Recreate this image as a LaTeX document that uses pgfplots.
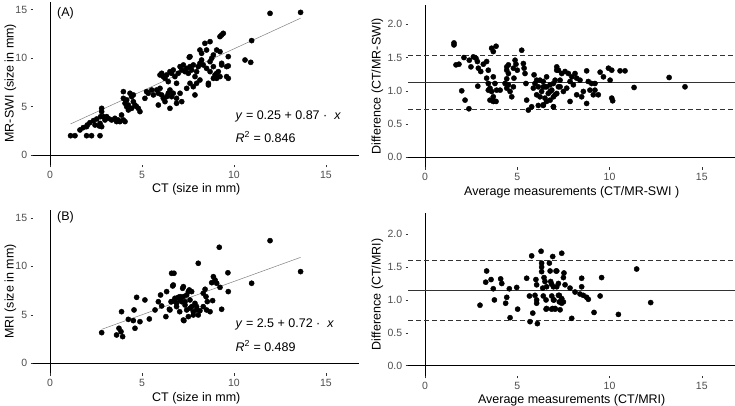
\documentclass[border=0pt]{standalone}
\usepackage{fontspec}
\setmainfont{Liberation Sans}
\usepackage{pgfplots}
\pgfplotsset{compat=1.18}
\definecolor{tickgray}{HTML}{4D4D4D}
\definecolor{tickmark}{HTML}{333333}
\pgfplotsset{
  panel/.style={
    scale only axis,
    axis line style={draw=none},
    tick align=outside,
    tick pos=left,
    major tick length=2.75pt,
    tick style={color=tickmark, line width=0.5pt},
    xtick={0,5,10,15},
    xmin=-0.9, xmax=16.8,
    tick label style={font=\fontsize{10.5}{12}\selectfont, text=tickgray},
    /pgf/number format/assume math mode=true,
    every axis x label/.style={at={(axis description cs:0.5,0)}, yshift=-25pt, anchor=center, font=\fontsize{12.5}{14}\selectfont},
    clip=false,
  },
  ylab/.style={every axis y label/.style={at={(axis description cs:0,0.5)}, xshift=#1, rotate=90, anchor=center, font=\fontsize{12.5}{14}\selectfont}},
  dots/.style={only marks, mark=*, mark size=2.6pt, black},
}
\begin{document}
\begin{tikzpicture}
\useasboundingbox (0,0) rectangle (735pt,405pt);
% ---------------- Panel A left
\begin{axis}[panel, at={(33.4pt,240.3pt)}, anchor=south west,
  width=325.7pt, height=163pt, ymin=-1, ymax=15.8, ytick={0,5,10,15},
  xlabel={CT (size in mm)}, ylabel={MR-SWI (size in mm)}, ylab=-23pt]
\addplot[black, line width=0.6pt] coordinates {(-0.9,0) (16.8,0)};
\addplot[black, line width=0.6pt] coordinates {(0,-1) (0,15.8)};
\addplot[gray, line width=0.5pt] coordinates {(1.12,3.2) (13.62,14.1)};
\addplot[dots] table {
x y
1.12 1.99
1.36 1.99
1.99 1.99
2.26 1.99
2.72 1.99
1.63 2.58
1.81 2.82
2.03 3.09
2.17 3.33
2.36 3.54
2.54 3.71
2.68 2.99
2.75 3.95
1.99 2.92
2.45 3.09
2.81 4.81
2.81 4.47
2.90 3.95
2.99 3.61
3.08 3.95
3.17 3.78
3.35 3.61
3.53 3.78
3.62 3.44
3.71 3.61
3.80 3.44
3.99 3.61
4.08 3.44
3.89 4.12
2.72 3.26
2.81 2.92
3.99 6.53
3.99 5.84
4.08 5.33
4.17 4.98
4.26 4.64
4.35 6.36
4.44 6.01
4.53 6.19
4.53 5.50
4.62 5.15
4.71 4.98
4.80 4.81
4.89 4.47
4.17 5.67
4.26 5.15
4.44 4.81
5.16 5.84
5.25 6.53
5.34 6.36
5.53 6.70
5.62 6.19
5.80 6.70
5.89 6.36
5.98 6.87
5.98 8.25
6.07 8.42
6.16 8.08
6.25 7.90
6.34 8.25
6.43 7.56
6.52 8.59
6.61 8.42
6.70 8.76
6.79 8.08
6.88 7.39
6.97 8.42
7.07 9.11
7.16 8.76
7.25 9.28
7.34 8.59
7.43 8.93
7.52 8.42
7.61 9.11
7.70 8.76
7.79 9.28
7.88 8.08
7.97 8.59
8.06 9.11
6.07 6.19
6.16 5.84
6.25 5.50
6.34 6.01
6.43 6.36
6.52 6.70
6.61 6.01
6.70 6.36
6.88 5.84
7.07 6.36
7.16 5.50
5.89 5.15
6.52 4.81
6.88 5.33
7.43 6.87
7.61 7.39
7.79 7.04
7.97 7.39
8.15 7.73
7.88 6.19
8.61 7.39
8.15 9.45
8.24 9.79
8.33 9.28
8.51 8.93
8.70 8.59
8.88 9.11
8.97 8.25
9.06 7.90
9.15 8.59
9.24 8.08
8.70 9.62
8.79 9.97
8.88 10.31
9.06 10.82
9.24 10.65
8.24 10.48
8.51 10.82
8.42 11.51
8.70 11.68
7.61 10.14
9.33 9.28
9.60 9.11
9.69 10.14
9.60 8.08
11.96 14.60
13.62 14.70
10.96 11.79
10.60 9.79
10.91 9.55
9.33 12.37
9.24 12.20
9.42 12.54
8.15 10.82
9.69 9.18
9.69 7.90
9.33 9.45
7.57 10.07
8.88 7.90
8.61 7.22
9.06 8.42
};
\node[anchor=west, font=\fontsize{12.5}{14}\selectfont] at (axis cs:0.2,14.6) {(A)};
\node[anchor=west, font=\fontsize{12.5}{14}\selectfont] at (axis cs:9.9,4.0) {\textit{y} = 0.25 + 0.87 · \ \textit{x}};
\node[anchor=west, font=\fontsize{12.5}{14}\selectfont] at (axis cs:9.9,1.86) {\textit{R}\textsuperscript{2} = 0.846};
\end{axis}
% ---------------- Panel A right
\begin{axis}[panel, at={(408.4pt,237.7pt)}, anchor=south west,
  width=326.6pt, height=162.3pt, ymin=-0.15, ymax=2.29, ytick={0,0.5,1,1.5,2},
  yticklabel style={/pgf/number format/.cd, fixed, fixed zerofill, precision=1},
  xlabel={Average measurements (CT/MR-SWI )}, ylabel={Difference (CT/MR-SWI)}, ylab=-31pt]
\addplot[black, line width=0.6pt] coordinates {(-0.9,0) (16.8,0)};
\addplot[black, line width=0.6pt] coordinates {(0,-0.15) (0,2.29)};
\addplot[black!80, line width=0.6pt] coordinates {(-0.9,1.128) (16.8,1.128)};
\addplot[black!80, line width=0.6pt, dash pattern=on 4.5pt off 3.5pt] coordinates {(-0.9,1.528) (16.8,1.528)};
\addplot[black!80, line width=0.6pt, dash pattern=on 4.5pt off 3.5pt] coordinates {(-0.9,0.726) (16.8,0.726)};
\addplot[dots] table {
x y
1.57 1.72
1.57 1.69
1.68 1.39
1.84 1.40
1.99 1.00
2.17 0.86
2.38 0.73
2.11 1.50
2.40 1.46
2.49 1.36
2.62 1.51
2.76 1.49
2.84 1.44
2.89 1.34
3.02 1.29
2.86 1.07
3.16 1.40
3.34 1.44
3.43 1.31
3.61 1.64
3.70 1.59
3.85 1.67
3.34 1.19
3.43 1.11
3.52 1.04
3.43 1.01
3.61 0.99
3.52 0.86
3.70 0.84
3.85 0.84
3.70 0.91
3.88 1.01
4.07 1.01
3.79 1.11
3.70 1.21
4.34 1.11
4.43 1.36
4.52 1.39
4.43 1.31
4.52 1.26
4.43 1.18
4.52 1.09
4.43 1.04
4.61 0.99
4.70 0.91
4.79 1.34
4.82 1.19
4.79 1.06
4.88 1.46
4.93 1.40
5.00 1.31
5.24 1.61
5.33 1.41
5.37 1.34
5.42 1.26
5.47 1.11
5.51 0.86
5.60 0.71
5.78 0.76
5.91 1.24
5.96 1.11
5.87 1.04
6.05 1.16
6.14 1.06
6.05 0.94
6.23 0.91
6.14 0.78
6.32 0.99
6.41 1.14
6.50 1.06
6.59 1.21
6.68 0.96
6.78 1.09
6.87 1.01
6.96 0.76
6.96 0.91
7.05 1.16
7.14 1.31
7.23 1.06
7.14 0.96
6.59 0.84
6.41 0.78
6.23 1.16
6.41 1.06
6.50 0.89
6.41 0.79
6.96 0.76
7.14 1.36
7.23 1.31
7.41 1.26
7.59 1.29
7.77 1.26
7.96 1.21
8.13 1.26
8.22 1.19
8.40 1.16
8.76 1.30
8.85 1.14
9.03 1.11
9.21 1.11
9.49 1.28
9.67 1.21
9.94 1.34
10.12 1.31
10.03 1.16
10.57 1.30
10.84 1.30
10.12 0.89
10.17 0.85
11.33 1.05
13.23 1.20
14.09 1.06
6.59 1.06
6.78 0.99
6.96 1.11
7.05 0.94
7.32 1.06
7.50 0.99
7.68 1.04
7.86 0.84
8.04 1.09
8.22 0.94
8.49 0.91
8.76 0.81
8.94 1.01
9.12 0.94
9.39 0.94
6.78 0.86
7.32 1.16
7.86 1.14
8.58 0.99
9.21 1.01
};
\end{axis}
% ---------------- Panel B left
\begin{axis}[panel, at={(33.4pt,32pt)}, anchor=south west,
  width=325.7pt, height=163pt, ymin=-1, ymax=15.8, ytick={0,5,10,15},
  xlabel={CT (size in mm)}, ylabel={MRI (size in mm)}, ylab=-23pt]
\addplot[black, line width=0.6pt] coordinates {(-0.9,0) (16.8,0)};
\addplot[black, line width=0.6pt] coordinates {(0,-1) (0,15.8)};
\addplot[gray, line width=0.5pt] coordinates {(2.81,3.5) (13.62,10.92)};
\addplot[dots] table {
x y
2.81 3.16
3.62 2.92
3.75 3.61
3.86 3.26
3.95 2.75
3.89 5.32
4.26 4.53
4.53 4.40
4.62 3.61
4.71 6.80
4.57 5.50
4.89 4.29
5.16 6.53
5.40 4.57
5.71 5.50
5.89 6.35
6.01 7.04
6.07 5.91
6.30 4.81
6.34 7.39
6.49 5.57
6.58 6.35
6.61 9.28
6.74 9.28
6.67 7.97
6.79 6.53
6.88 5.84
6.97 6.80
7.07 6.53
7.21 7.73
7.25 6.87
7.28 4.40
7.34 6.35
7.43 5.50
7.52 7.39
7.61 6.53
7.70 5.84
7.79 4.98
7.88 6.18
7.97 5.50
8.06 10.31
7.57 7.56
9.20 11.96
8.88 8.93
8.97 8.59
8.79 8.31
9.06 8.25
9.67 9.33
9.24 7.83
9.69 7.39
10.96 8.25
8.43 7.63
8.33 7.22
8.48 6.87
8.84 6.46
8.55 6.36
8.33 5.84
8.51 5.50
9.33 5.57
6.70 8.07
7.25 7.90
7.70 7.39
7.43 7.04
7.07 6.87
6.79 6.70
6.61 6.35
6.88 6.18
7.16 6.35
7.34 6.01
7.61 5.67
7.79 5.32
7.97 5.84
8.06 4.98
7.25 4.46
7.52 4.81
7.05 5.32
6.52 5.50
8.70 5.32
8.15 5.42
11.96 12.64
13.62 9.45
};
\node[anchor=west, font=\fontsize{12.5}{14}\selectfont] at (axis cs:0.2,15.0) {(B)};
\node[anchor=west, font=\fontsize{12.5}{14}\selectfont] at (axis cs:9.9,4.05) {\textit{y} = 2.5 + 0.72 · \ \textit{x}};
\node[anchor=west, font=\fontsize{12.5}{14}\selectfont] at (axis cs:9.9,1.78) {\textit{R}\textsuperscript{2} = 0.489};
\end{axis}
% ---------------- Panel B right
\begin{axis}[panel, at={(408.4pt,29.4pt)}, anchor=south west,
  width=326.6pt, height=162.5pt, ymin=-0.15, ymax=2.32, ytick={0,0.5,1,1.5,2},
  yticklabel style={/pgf/number format/.cd, fixed, fixed zerofill, precision=1},
  xlabel={Average measurements (CT/MRI)}, ylabel={Difference (CT/MRI)}, ylab=-31pt]
\addplot[black, line width=0.6pt] coordinates {(-0.9,0) (16.8,0)};
\addplot[black, line width=0.6pt] coordinates {(0,-0.15) (0,2.32)};
\addplot[black!80, line width=0.6pt] coordinates {(-0.9,1.14) (16.8,1.14)};
\addplot[black!80, line width=0.6pt, dash pattern=on 4.5pt off 3.5pt] coordinates {(-0.9,1.596) (16.8,1.596)};
\addplot[black!80, line width=0.6pt, dash pattern=on 4.5pt off 3.5pt] coordinates {(-0.9,0.688) (16.8,0.688)};
\addplot[dots] table {
x y
2.98 0.92
3.34 1.44
3.29 1.27
3.58 1.31
3.70 1.17
3.76 1.00
4.10 1.32
4.16 1.25
4.43 1.04
4.37 0.95
4.57 1.17
4.61 0.73
4.97 1.19
5.02 0.86
5.51 1.33
5.66 1.06
5.69 0.67
5.78 1.67
5.84 0.80
5.96 1.07
6.01 1.31
6.05 1.23
6.05 1.00
6.05 0.95
6.09 0.64
6.29 1.74
6.32 1.56
6.32 1.50
6.32 1.43
6.38 1.18
6.41 1.06
6.45 1.34
6.50 1.28
6.56 1.00
6.59 0.87
6.59 1.20
6.74 1.56
6.78 1.44
6.81 1.28
6.87 1.06
6.92 1.66
6.92 0.87
6.96 1.20
6.99 1.00
7.05 0.87
7.14 1.44
7.23 1.25
7.28 1.07
7.28 0.97
7.41 1.71
7.10 1.44
7.53 1.41
7.50 1.34
6.86 1.24
7.14 1.20
7.59 1.23
7.86 1.18
8.13 1.12
8.49 1.33
8.49 1.20
8.40 1.09
8.58 1.07
8.76 1.04
8.85 1.01
9.49 1.06
9.57 1.34
11.47 1.47
12.23 0.96
10.48 0.78
9.16 0.81
7.95 0.72
7.32 0.85
7.05 0.86
6.86 0.86
6.56 0.86
6.96 1.00
7.41 1.02
7.50 0.97
7.41 0.95
7.23 1.07
};
\end{axis}
\end{tikzpicture}
\end{document}
